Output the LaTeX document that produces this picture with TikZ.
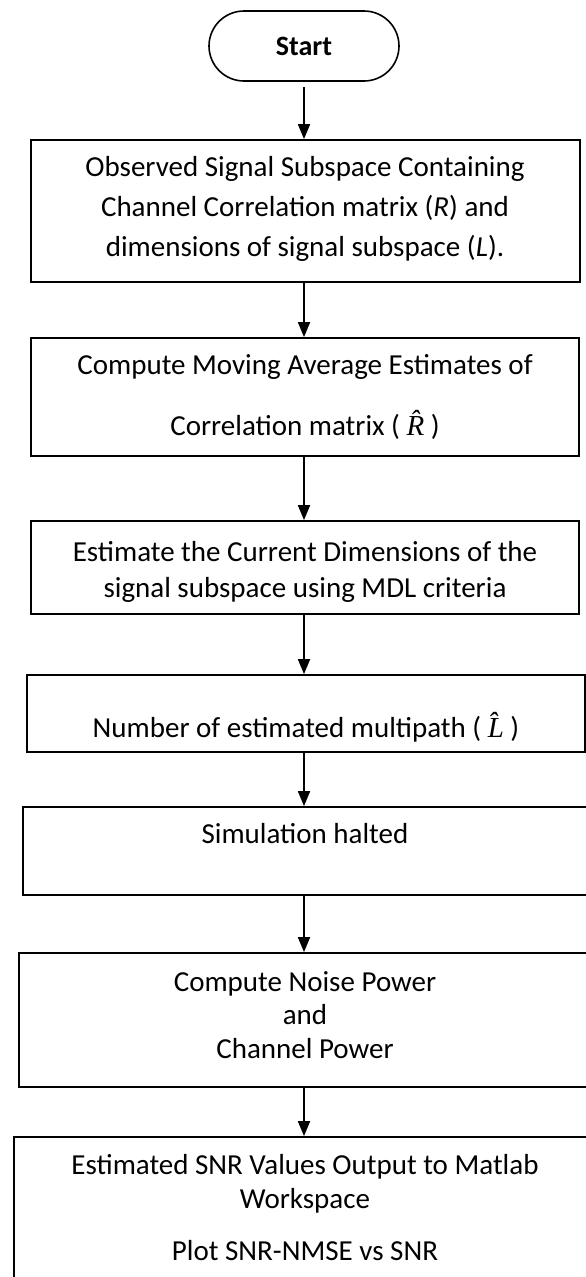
\documentclass[tikz,border=0pt]{standalone}
\usepackage{fontspec}
\setmainfont{Carlito}
\newfontfamily\hatserif{Liberation Serif}
\usetikzlibrary{arrows.meta,shapes.misc}
\newcommand{\hatsym}[1]{{\hatserif\itshape #1^^^^0302}}
\begin{document}
\begin{tikzpicture}[x=1pt,y=-1pt,
  box/.style={draw,line width=1.8pt,rectangle,inner sep=0pt},
  lbl/.style={anchor=base,inner sep=0pt,font=\fontsize{29}{34}\selectfont},
  flow/.style={line width=1.8pt,-{Triangle[width=12pt,length=15pt]}}]
\useasboundingbox (0,0) rectangle (586,1277);
\clip (0,0) rectangle (586,1277);
\fill[white] (0,0) rectangle (586,1277);

% shapes
\node[draw,rounded rectangle,line width=1.6pt,minimum width=190pt,minimum height=70pt,
      inner sep=0pt,font=\fontsize{28}{32}\selectfont\bfseries] (start) at (304,46) {Start};
\node[box,minimum width=549pt,minimum height=142pt] (b1) at (305.5,211) {};
\node[box,minimum width=548pt,minimum height=118pt] (b2) at (305,397) {};
\node[box,minimum width=548pt,minimum height=93pt] (b3) at (305,567.5) {};
\node[box,minimum width=558pt,minimum height=77pt] (b4) at (306,713.5) {};
\node[box,minimum width=575pt,minimum height=88pt] (b5) at (310.5,851) {};
\node[box,minimum width=580pt,minimum height=134pt] (b6) at (309,1020) {};
\node[box,minimum width=590pt,minimum height=170pt] (b7) at (309,1222) {};

% texts
\node[lbl] (t1a) at (305,176) {Observed Signal Subspace Containing};
\node[lbl] (t1b) at (305,216) {Channel Correlation matrix (\textit{R}) and};
\node[lbl] (t1c) at (305,256) {dimensions of signal subspace (\textit{L}).};
\node[lbl] (t2a) at (305,374) {Compute Moving Average Estimates of};
\node[lbl] (t2b) at (305,435) {Correlation matrix ( \hatsym{R} )};
\node[lbl] (t3a) at (305,561) {Estimate the Current Dimensions of the};
\node[lbl] (t3b) at (305,597) {signal subspace using MDL criteria};
\node[lbl] (t4) at (306,737) {Number of estimated multipath ( \hatsym{L} )};
\node[lbl] (t5) at (305,843) {Simulation halted};
\node[lbl] (t6a) at (305,991) {Compute Noise Power};
\node[lbl] (t6b) at (305,1024) {and};
\node[lbl] (t6c) at (305,1058) {Channel Power};
\node[lbl] (t7a) at (305,1174) {Estimated SNR Values Output to Matlab};
\node[lbl] (t7b) at (305,1208) {Workspace};
\node[lbl] (t7c) at (305,1260) {Plot SNR-NMSE vs SNR};

% connectors
\draw[flow] (start.south) ++(0,5) coordinate (s0) -- (s0 |- b1.north);
\draw[flow] (b1.south -| start.south) -- (b2.north -| start.south);
\draw[flow] (b2.south -| start.south) -- (b3.north -| start.south);
\draw[flow] (b3.south -| start.south) -- (b4.north -| start.south);
\draw[flow] (b4.south -| start.south) -- (b5.north -| start.south);
\draw[flow] (b5.south -| start.south) -- (b6.north -| start.south);
\draw[flow] (b6.south -| start.south) -- (b7.north -| start.south);
\end{tikzpicture}
\end{document}
